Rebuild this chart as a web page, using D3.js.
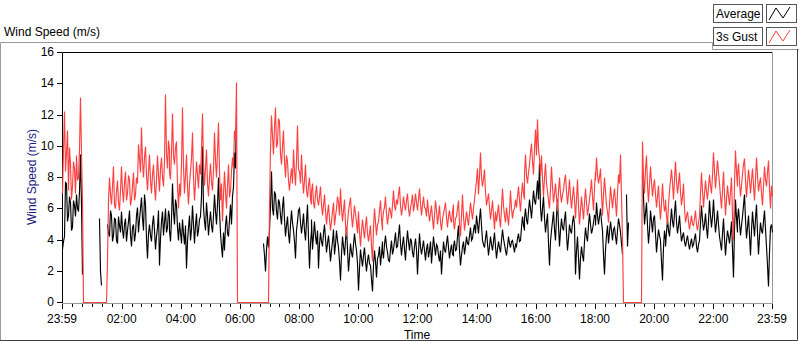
<!DOCTYPE html>
<html>
<head>
<meta charset="utf-8">
<script src="https://cdn.jsdelivr.net/npm/d3@7.9.0/dist/d3.min.js"></script>
<style>
  body { margin: 0; background: #fff; }
  svg { display: block; font-family: "Liberation Sans", Arial, sans-serif; font-size: 12px; }
</style>
</head>
<body>
<svg id="chart" width="800" height="342"></svg>
<script>
// minutes between two samples, first sample at 23:59
const STEP_MIN = 2;
const _ = null; // logger offline

// averaged wind speed (m/s)
const avgSpeed = [
  3.4, 3.9, 4.2, 7.7, 7.6, 5.2, 5.6, 6.8, 6.4, 4.6, 4.8, 6.5, 6.2, 5.5, 6.9, 6.0, 5.8, 7.1, 9.5, 6.3,
  1.8, _, _, _, _, _, _, _, _, _, _, _, _, _, _, _, _, _, 5.4, 2.0,
  1.1, _, _, _, _, _, 5.0, 4.4, 4.2, 5.9, 5.6, 3.9, 4.3, 5.4, 5.3, 4.0, 3.8, 5.5, 4.9, 4.5,
  5.8, 4.7, 4.1, 5.0, 5.4, 3.9, 4.6, 5.2, 5.9, 4.3, 3.6, 4.8, 5.0, 3.9, 4.4, 5.6, 6.1, 4.5, 5.3, 6.0,
  6.7, 5.4, 4.6, 6.9, 6.3, 4.1, 2.8, 4.4, 5.0, 4.3, 3.9, 5.0, 5.6, 4.6, 3.4, 4.2, 4.8, 5.9, 2.4, 4.1,
  5.2, 5.8, 4.3, 5.1, 6.0, 4.5, 4.8, 5.9, 5.5, 4.6, 3.9, 5.3, 7.6, 5.8, 5.0, 6.6, 6.2, 4.8, 4.0, 5.1,
  4.5, 3.8, 5.3, 4.4, 3.7, 4.9, 2.2, 3.9, 4.8, 5.6, 4.0, 4.7, 6.2, 5.0, 3.8, 4.9, 5.7, 4.2, 4.6, 5.3,
  5.5, 6.8, 10.0, 6.1, 5.2, 4.6, 6.4, 5.5, 4.3, 5.1, 5.8, 4.9, 4.5, 5.6, 6.9, 5.8, 5.0, 6.3, 8.0, 5.9,
  4.4, 3.6, 2.9, 4.5, 3.3, 4.9, 5.6, 4.4, 4.2, 5.3, 6.3, 5.0, 6.8, 7.4, 9.6, 8.6, 11.9, _, _, _,
  _, _, _, _, _, _, _, _, _, _, _, _, _, _, _, _, _, _, _, _,
  _, _, _, _, 3.8, 3.0, 2.0, 3.4, 4.2, 3.5, 4.6, 6.2, 8.4, 6.0, 5.6, 7.1, 6.9, 5.8, 5.3, 6.6,
  6.4, 5.6, 5.0, 6.1, 6.8, 5.3, 4.2, 4.9, 5.5, 4.4, 3.8, 5.0, 5.9, 5.1, 4.6, 3.9, 2.8, 4.6, 5.2, 5.9,
  6.0, 5.1, 4.4, 5.0, 5.7, 4.6, 4.0, 5.2, 6.3, 4.1, 2.2, 3.8, 4.6, 5.3, 3.4, 4.3, 5.2, 4.2, 3.7, 4.6,
  2.2, 3.7, 4.5, 3.9, 3.6, 4.4, 5.0, 4.1, 3.2, 3.8, 4.3, 3.5, 2.6, 3.3, 3.9, 4.7, 3.1, 3.7, 4.6, 4.0,
  3.5, 2.6, 1.4, 3.1, 4.2, 3.6, 3.0, 4.0, 4.8, 3.4, 2.0, 2.9, 3.8, 3.2, 2.9, 3.7, 4.4, 3.8, 3.3, 2.5,
  0.8, 2.2, 3.4, 2.8, 2.3, 3.0, 3.5, 2.6, 2.0, 2.7, 3.1, 2.5, 2.4, 1.5, 0.7, 2.4, 3.3, 2.6, 1.6, 2.8,
  3.0, 3.6, 2.4, 3.1, 3.9, 3.3, 2.8, 3.7, 4.3, 3.6, 3.2, 2.7, 2.6, 3.4, 4.0, 3.1, 3.4, 3.9, 4.5, 3.5,
  3.6, 4.3, 5.0, 3.8, 3.0, 3.7, 4.2, 3.4, 2.7, 3.8, 4.6, 3.9, 3.3, 4.1, 3.9, 3.2, 2.9, 3.6, 4.1, 3.4,
  1.8, 3.2, 4.4, 3.6, 3.1, 3.5, 4.0, 3.3, 2.7, 3.4, 3.8, 2.9, 3.3, 3.9, 2.5, 3.4, 4.2, 3.6, 3.0, 3.7,
  3.6, 3.0, 2.6, 3.3, 1.8, 2.9, 3.9, 3.4, 3.2, 3.8, 4.3, 3.5, 2.8, 3.3, 3.7, 3.1, 3.0, 3.6, 4.0, 3.3,
  3.4, 4.2, 4.9, 3.3, 2.4, 3.0, 3.6, 3.9, 3.1, 3.6, 4.2, 3.8, 3.7, 4.3, 4.8, 4.0, 4.1, 4.6, 5.0, 4.4,
  5.6, 5.0, 4.4, 5.3, 6.0, 4.9, 4.0, 3.7, 3.5, 4.1, 4.6, 3.8, 3.0, 3.6, 4.2, 3.7, 3.3, 3.9, 4.5, 3.6,
  2.8, 3.4, 3.9, 3.5, 3.2, 4.0, 4.7, 4.1, 3.7, 3.3, 3.0, 3.6, 4.2, 3.8, 3.5, 3.9, 4.0, 3.6, 3.2, 3.7,
  3.6, 4.1, 4.4, 3.9, 4.0, 4.8, 5.5, 4.9, 4.6, 5.4, 6.0, 5.3, 5.0, 5.8, 6.6, 6.0, 5.4, 6.3, 7.2, 6.5,
  6.3, 7.0, 7.8, 6.6, 8.9, 6.1, 5.2, 6.0, 6.8, 5.4, 4.5, 5.1, 5.7, 3.8, 2.4, 3.9, 4.6, 5.2, 5.8, 4.7,
  4.0, 5.5, 6.6, 4.9, 3.6, 4.6, 5.4, 4.8, 4.6, 5.3, 5.8, 4.4, 3.3, 4.1, 5.0, 4.6, 4.4, 5.1, 5.6, 4.9,
  1.8, 3.3, 4.2, 2.9, 1.5, 2.8, 3.6, 3.0, 2.6, 3.9, 4.8, 4.2, 3.9, 4.9, 5.7, 5.0, 4.4, 4.7, 5.1, 5.6,
  5.5, 4.9, 6.4, 5.6, 5.0, 5.5, 6.0, 5.2, 4.6, 3.0, 1.8, 3.4, 4.3, 4.9, 3.8, 4.5, 5.2, 4.6, 4.0, 4.7,
  4.8, 4.2, 3.7, 4.6, 5.4, 5.0, 4.5, 3.8, 3.1, _, _, _, 6.9, 3.6, 5.1, _, _, _, _, _,
  _, _, _, _, _, _, _, _, 8.3, 6.8, 5.0, 5.7, 6.4, 4.9, 3.8, 4.6, 5.9, 5.2, 4.5, 5.4,
  5.6, 4.4, 3.2, 4.0, 4.7, 4.3, 4.0, 2.6, 1.4, 3.5, 4.6, 4.0, 3.6, 4.5, 5.3, 4.6, 4.2, 5.1, 6.0, 5.2,
  4.8, 5.7, 6.5, 5.2, 4.4, 4.9, 5.6, 4.6, 3.9, 4.2, 4.5, 3.9, 3.6, 4.0, 4.3, 3.8, 3.4, 3.8, 4.1, 3.6,
  3.7, 4.1, 4.4, 3.6, 3.2, 3.7, 4.0, 5.1, 6.2, 5.3, 4.6, 5.0, 5.7, 4.8, 4.1, 5.2, 6.5, 5.6, 4.8, 5.5,
  6.6, 5.4, 4.5, 5.1, 5.9, 5.0, 4.2, 3.8, 3.3, 4.4, 5.4, 4.1, 3.0, 3.9, 4.6, 4.2, 3.8, 4.4, 5.2, 3.4,
  1.6, 4.7, 6.6, 5.4, 4.5, 5.3, 6.0, 5.1, 4.3, 4.9, 5.5, 6.2, 6.9, 5.3, 4.1, 4.8, 5.6, 4.3, 3.0, 4.6,
  5.8, 5.0, 4.2, 5.4, 6.3, 4.5, 3.1, 4.2, 5.1, 4.6, 4.4, 5.2, 5.9, 4.7, 3.6, 2.4, 1.0, 3.2, 4.8, 5.0, 4.5
];

// 3 second gust (m/s), logger writes 0 while offline
const gustSpeed = [
  7.0, 9.8, 12.2, 8.4, 9.6, 11.0, 7.2, 9.9, 8.8, 6.6, 7.4, 9.0, 8.6, 7.0, 9.4, 7.8, 8.0, 9.8, 13.1, 9.6,
  6.5, 0, 0, 0, 0, 0, 0, 0, 0, 0, 0, 0, 0, 0, 0, 0, 0, 0, 0, 0,
  0, 0, 0, 0, 0, 0, 2.6, 6.5, 8.0, 6.9, 6.3, 7.4, 8.7, 6.2, 6.0, 7.1, 7.8, 6.4, 5.9, 7.2,
  8.7, 7.2, 6.4, 7.7, 8.4, 6.5, 7.0, 8.1, 7.9, 6.2, 6.6, 7.4, 8.3, 6.5, 6.9, 8.0, 7.6, 10.1, 9.2, 8.3,
  11.2, 9.0, 8.0, 9.3, 10.0, 8.1, 7.2, 8.4, 9.5, 7.8, 7.0, 8.2, 8.8, 7.4, 6.5, 7.9, 9.4, 8.1, 7.1, 8.6,
  9.3, 8.0, 7.4, 9.1, 13.3, 9.5, 8.6, 10.4, 9.8, 8.3, 7.9, 9.6, 12.1, 9.4, 8.8, 9.9, 10.3, 7.5, 6.0, 7.6,
  6.8, 8.9, 12.5, 8.7, 7.0, 8.1, 9.5, 7.4, 6.3, 7.6, 8.4, 9.2, 10.9, 8.0, 6.5, 7.7, 9.0, 8.2, 7.3, 8.8,
  8.2, 9.7, 12.1, 8.9, 7.5, 8.6, 9.8, 7.6, 6.8, 8.0, 8.9, 7.7, 7.2, 8.5, 10.9, 9.1, 8.0, 9.6, 11.5, 8.4,
  6.5, 7.6, 5.2, 6.9, 8.4, 7.1, 6.0, 7.5, 8.8, 6.7, 7.2, 8.4, 9.3, 8.6, 11.0, 10.4, 14.1, 0, 0, 0,
  0, 0, 0, 0, 0, 0, 0, 0, 0, 0, 0, 0, 0, 0, 0, 0, 0, 0, 0, 0,
  0, 0, 0, 0, 0, 0, 0, 0, 0, 0, 6.1, 9.8, 12.0, 10.6, 9.5, 11.2, 12.5, 9.9, 10.2, 11.8,
  11.6, 9.5, 8.8, 10.0, 11.0, 9.0, 8.0, 9.4, 9.0, 7.8, 7.2, 8.0, 8.6, 7.6, 9.8, 8.4, 7.5, 9.1, 11.3, 8.5,
  8.4, 7.6, 9.5, 8.0, 7.0, 7.8, 8.8, 7.2, 6.7, 7.5, 8.0, 6.6, 6.3, 7.1, 7.6, 6.4, 6.0, 6.9, 7.5, 6.6,
  6.2, 6.8, 7.4, 6.3, 5.6, 6.2, 6.9, 5.8, 5.0, 5.7, 6.3, 5.4, 4.6, 5.2, 5.8, 6.4, 4.9, 5.5, 6.0, 6.8,
  6.4, 5.6, 7.3, 6.0, 5.2, 5.9, 6.6, 5.0, 4.2, 5.1, 5.9, 6.3, 6.7, 5.6, 4.8, 5.5, 6.2, 5.7, 5.1, 4.4,
  5.8, 4.5, 3.6, 4.6, 5.3, 4.7, 4.1, 4.9, 5.5, 4.4, 3.9, 4.4, 4.9, 3.6, 2.6, 4.8, 6.0, 5.1, 4.3, 5.0,
  5.2, 5.9, 6.5, 5.3, 4.6, 5.2, 5.8, 6.1, 6.8, 5.7, 5.0, 5.6, 6.1, 5.8, 5.4, 6.3, 7.2, 6.2, 5.9, 6.6,
  6.3, 6.9, 7.4, 6.2, 5.6, 6.1, 6.8, 6.3, 5.9, 6.5, 7.0, 6.0, 5.5, 6.0, 6.4, 6.9, 5.8, 6.3, 7.0, 6.4,
  5.9, 6.6, 7.3, 6.4, 5.6, 6.2, 6.8, 6.1, 6.0, 5.5, 6.6, 5.8, 5.2, 5.7, 6.2, 5.4, 4.7, 5.6, 6.5, 5.9,
  5.0, 5.6, 6.2, 5.1, 4.6, 5.3, 5.7, 6.0, 6.4, 5.4, 4.8, 5.5, 5.9, 5.3, 5.1, 5.8, 6.3, 5.2, 4.7, 5.4,
  5.5, 6.0, 6.5, 5.0, 4.2, 5.6, 6.9, 5.5, 4.6, 5.2, 5.8, 5.3, 4.9, 5.7, 6.4, 5.8, 5.3, 6.0, 6.6, 7.2,
  7.8, 8.6, 6.9, 8.1, 9.6, 8.0, 7.4, 7.9, 8.5, 7.1, 6.2, 6.6, 7.0, 6.1, 5.3, 5.9, 6.5, 5.6, 4.7, 5.8,
  5.2, 5.7, 6.3, 5.4, 4.8, 6.1, 7.3, 6.2, 5.6, 5.1, 6.1, 5.5, 4.9, 5.8, 7.2, 6.0, 5.4, 5.9, 6.0, 6.6,
  6.1, 6.8, 7.4, 6.5, 5.8, 6.9, 7.7, 7.0, 6.6, 8.2, 9.5, 8.1, 7.6, 8.3, 8.8, 9.6, 10.2, 9.0, 8.2, 9.8,
  11.1, 9.4, 11.7, 9.8, 9.2, 8.1, 9.4, 7.9, 6.8, 8.0, 8.9, 7.6, 7.1, 6.5, 6.0, 7.3, 8.7, 7.4, 6.4, 7.0,
  7.6, 6.7, 5.8, 7.1, 8.0, 7.0, 6.4, 6.9, 7.2, 7.8, 8.2, 7.1, 6.3, 7.0, 7.9, 6.8, 6.0, 6.7, 7.4, 6.5,
  5.4, 6.6, 7.9, 6.2, 5.0, 5.9, 6.8, 6.0, 5.3, 6.4, 7.3, 6.4, 5.6, 6.1, 6.6, 7.2, 7.9, 6.8, 5.9, 7.3,
  8.4, 7.8, 9.3, 8.2, 7.6, 8.0, 8.6, 7.0, 5.6, 6.9, 8.0, 7.1, 6.2, 5.8, 5.1, 6.3, 7.4, 6.7, 6.0, 6.8,
  7.3, 6.4, 5.5, 7.0, 8.2, 7.6, 9.5, 6.8, 4.1, 0, 0, 0, 0, 0, 0, 0, 0, 0, 0, 0,
  0, 0, 0, 0, 0, 0, 0, 0, 10.3, 8.1, 7.0, 8.5, 9.4, 7.5, 6.4, 7.6, 8.7, 7.7, 6.8, 7.4,
  7.9, 6.9, 6.1, 6.8, 7.5, 6.2, 5.3, 6.4, 7.6, 6.5, 5.8, 6.2, 6.6, 5.6, 5.0, 6.3, 7.2, 7.8, 8.5, 7.7,
  6.6, 7.9, 9.0, 7.8, 7.0, 7.6, 8.3, 7.1, 6.2, 6.8, 7.6, 6.0, 5.1, 5.5, 5.8, 5.2, 4.7, 5.1, 5.6, 5.0,
  4.9, 5.4, 5.9, 5.0, 4.6, 5.1, 5.5, 7.0, 8.3, 7.2, 6.1, 7.0, 7.8, 7.1, 6.6, 7.4, 8.2, 7.5, 7.0, 8.1,
  9.6, 8.4, 7.3, 8.2, 9.1, 8.3, 7.6, 6.8, 6.0, 7.2, 8.4, 6.9, 5.6, 6.6, 7.5, 6.8, 6.2, 7.1, 8.0, 5.5,
  4.0, 7.6, 9.7, 8.3, 7.4, 8.1, 8.9, 7.7, 6.8, 7.5, 8.2, 8.8, 9.2, 7.8, 6.7, 7.6, 8.5, 7.9, 7.0, 7.8,
  8.6, 7.5, 6.5, 7.9, 9.3, 8.1, 7.1, 7.6, 8.0, 7.0, 6.2, 7.4, 8.7, 7.9, 7.4, 8.3, 9.1, 7.3, 6.0, 7.5, 6.8
];

const yTicks = [0, 2, 4, 6, 8, 10, 12, 14, 16];
const xTickLabels = ['23:59', '02:00', '04:00', '06:00', '08:00', '10:00', '12:00',
  '14:00', '16:00', '18:00', '20:00', '22:00', '23:59'];
const xTickMinutes = [0, 121, 241, 361, 481, 601, 721, 841, 961, 1081, 1201, 1321, 1440];

const seriesNames = ['Average', '3s Gust'];
const seriesColors = ['#000000', '#ff4040'];

const svg = d3.select('#chart');
const frameGrey = '#9a9a9a';

const x = d3.scaleLinear().domain([0, 1440]).range([62, 772]);
const y = d3.scaleLinear().domain([0, 16]).range([302, 52]);

// outer frame of the chart control
svg.append('path')
  .attr('d', 'M0.5,341 V42.5 H712.5 V49.5 H799')
  .attr('fill', 'none').attr('stroke', frameGrey);
svg.append('path')
  .attr('d', 'M797.5,49 V340.5 H0')
  .attr('fill', 'none').attr('stroke', '#404040');

svg.append('text')
  .attr('x', 4).attr('y', 36)
  .text('Wind Speed (m/s)');

// legend
seriesNames.forEach((name, i) => {
  const top = 4 + i * 23;
  svg.append('rect')
    .attr('x', 713.5).attr('y', top + 0.5).attr('width', 49).attr('height', 18)
    .attr('fill', '#fff').attr('stroke', '#555');
  svg.append('text')
    .attr('x', 716).attr('y', top + 14)
    .text(name);
  svg.append('rect')
    .attr('x', 766.5).attr('y', top + 0.5).attr('width', 30).attr('height', 18)
    .attr('fill', '#fff').attr('stroke', '#555');
  svg.append('path')
    .attr('d', `M769,${top + 16} L776,${top + 4} L783,${top + 14} L790,${top + 3}`)
    .attr('fill', 'none').attr('stroke', seriesColors[i]);
});

// plot frame
svg.append('path')
  .attr('d', 'M62.5,303 V52.5 H772')
  .attr('fill', 'none').attr('stroke', '#000');
svg.append('path')
  .attr('d', 'M772.5,52 V303.5 H62')
  .attr('fill', 'none').attr('stroke', frameGrey);

// data, snapped to pixel columns like the logger display
const lineGen = d3.line()
  .defined(d => d != null)
  .x((d, i) => Math.round(x(i * STEP_MIN)) + 0.5)
  .y(d => Math.round(y(d)) + 0.5);

[avgSpeed, gustSpeed].forEach((series, k) => {
  svg.append('path')
    .datum(series)
    .attr('d', lineGen)
    .attr('fill', 'none')
    .attr('stroke', seriesColors[k])
    .attr('stroke-width', 1.15);
});

// y axis
const yAxis = svg.append('g');
yTicks.forEach(t => {
  yAxis.append('line')
    .attr('x1', 57).attr('x2', 62)
    .attr('y1', Math.round(y(t)) + 0.5).attr('y2', Math.round(y(t)) + 0.5)
    .attr('stroke', '#000');
  yAxis.append('text')
    .attr('x', 54).attr('y', y(t) + 4)
    .attr('text-anchor', 'end')
    .text(t);
});

// x axis: minor ticks every 20 min, labelled ticks every 2 h
const minorTicks = d3.range(1, 1440, 20);
svg.append('g').selectAll('line')
  .data(minorTicks)
  .join('line')
  .attr('x1', d => Math.round(x(d)) + 0.5).attr('x2', d => Math.round(x(d)) + 0.5)
  .attr('y1', 304).attr('y2', 307)
  .attr('stroke', '#000');

xTickMinutes.forEach((m, i) => {
  const px = Math.round(x(m)) + 0.5;
  svg.append('line')
    .attr('x1', px).attr('x2', px)
    .attr('y1', 304).attr('y2', 309)
    .attr('stroke', '#000');
  svg.append('text')
    .attr('x', x(m)).attr('y', 323)
    .attr('text-anchor', 'middle')
    .text(xTickLabels[i]);
});

svg.append('text')
  .attr('x', 417).attr('y', 339)
  .attr('text-anchor', 'middle')
  .text('Time');

svg.append('text')
  .attr('transform', 'translate(36,177) rotate(-90)')
  .attr('text-anchor', 'middle')
  .attr('fill', '#1a1a80')
  .text('Wind Speed (m/s)');
</script>
</body>
</html>
